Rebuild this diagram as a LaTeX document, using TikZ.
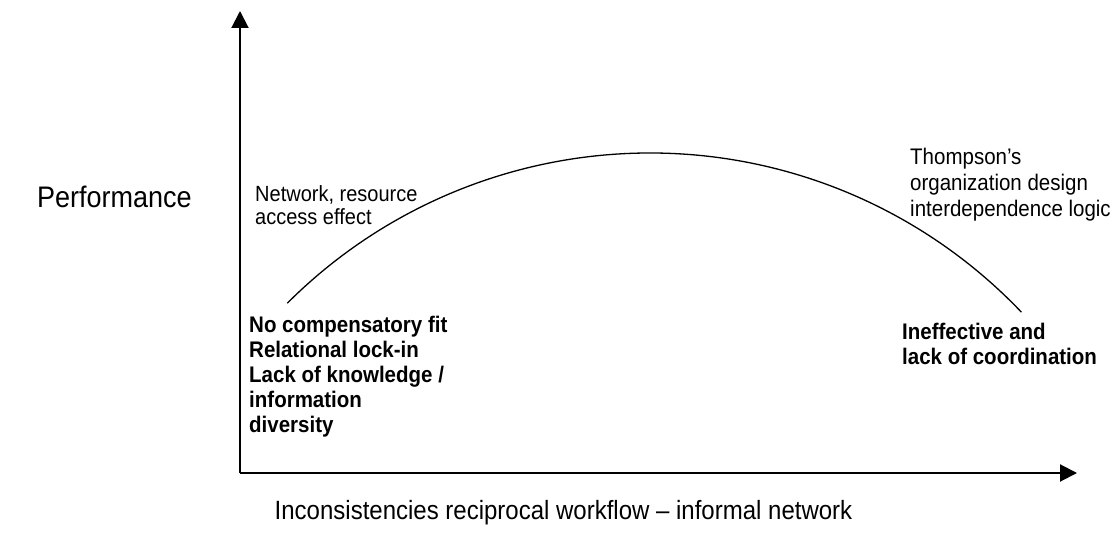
\documentclass[tikz,border=0pt]{standalone}
\usepackage{fontspec}
\setmainfont{Liberation Sans}
\usetikzlibrary{arrows.meta}
\begin{document}
\begin{tikzpicture}[x=1pt,y=1pt,
  axis/.style={line width=2pt,-{Triangle[length=17pt,width=17pt]}},
  curveline/.style={line width=1.3pt},
  txt/.style={inner sep=0pt,yscale=1.1},
  axislabel/.style={txt,font=\fontsize{27}{32}\selectfont},
  xlabel/.style={txt,font=\fontsize{24}{28}\selectfont},
  note/.style={txt,align=left,font=\fontsize{20}{21}\selectfont},
  noteb/.style={txt,align=left,font=\fontsize{20.5}{22.7}\selectfont\bfseries}]
\useasboundingbox (0,0) rectangle (1119,549);
% axes
\coordinate (origin) at (240,76);
\coordinate (ytip) at (240,538);
\coordinate (xtip) at (1077,76);
\draw[axis] (origin) -- (ytip);
\draw[axis] (origin) -- (xtip);
% performance curve: circular arc
\draw[curveline] (650,-117) ++(135:513) arc[start angle=135,end angle=43.6,radius=513];
% labels
\node[axislabel,anchor=west] (perf) at (37,352) {Performance};
\node[xlabel] (incons) at (563.5,36) {Inconsistencies reciprocal workflow – informal network};
\node[note,anchor=west] (network) at (255,343.5) {Network, resource\\access effect};
\node[note,anchor=west,font=\fontsize{20.5}{23.7}\selectfont] (thompson) at (910,364) {Thompson’s\\organization design\\interdependence logic};
\node[noteb,anchor=west] (nofit) at (249,172) {No compensatory fit\\Relational lock-in\\Lack of knowledge /\\information\\diversity};
\node[noteb,anchor=west] (ineff) at (902,205) {Ineffective and\\lack of coordination};
\end{tikzpicture}
\end{document}
